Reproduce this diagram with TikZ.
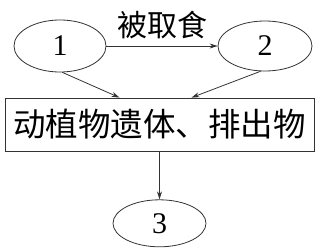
\documentclass[tikz,border=0pt]{standalone}
\usepackage{fontspec}
\setmainfont{Liberation Serif}
\newfontfamily\cjk{Noto Sans CJK SC}
\usepackage{tikz}
\usetikzlibrary{arrows.meta}
\usetikzlibrary{positioning, shapes.geometric}

\begin{document}
\begin{tikzpicture}[x=1bp, y=1bp,
    line/.style={draw=black!80, line width=0.8bp},
    arr/.style={line, -{Stealth[length=8bp, width=5bp]}},
    org/.style={ellipse, line, inner sep=0pt, font=\fontsize{30bp}{34bp}\selectfont},
    pool/.style={rectangle, line, minimum width=309bp, minimum height=53bp, inner sep=0pt,
        font=\cjk\fontsize{32.5bp}{38bp}\selectfont}]
    \useasboundingbox (0,0) rectangle (319,248);
    \node[pool] (box) at (159.5,123.5) {动植物遗体、排出物};
    \node[org, minimum width=92bp, minimum height=52bp] (e1) at (60,202) {1};
    \node[org, minimum width=94bp, minimum height=50bp] (e2) at (265,202) {2};
    \node[org, minimum width=93bp, minimum height=47bp, below=48bp of box] (e3) {3};
    \coordinate (in1) at ([xshift=-40bp]box.north);
    \coordinate (in2) at ([xshift=32bp]box.north);

    \draw[arr] (e1.east) -- node[midway, above=3bp, font=\cjk\fontsize{30bp}{34bp}\selectfont] (eat) {被取食} (e2.west);
    \draw[arr] (e1.-85) -- (in1);
    \draw[arr] (e2.-100) -- (in2);
    \draw[arr] (box.south) -- (e3.north);
\end{tikzpicture}
\end{document}
